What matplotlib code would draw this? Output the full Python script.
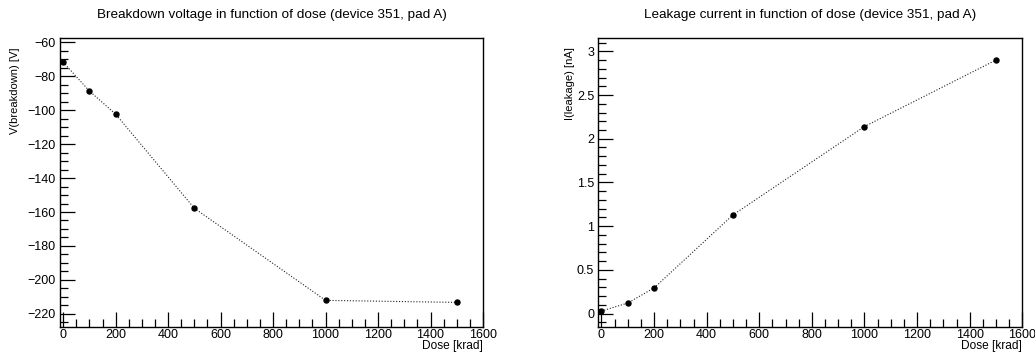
import matplotlib
matplotlib.use("Agg")
import matplotlib.pyplot as plt
from matplotlib.ticker import MultipleLocator, FuncFormatter

plt.rcParams['font.family'] = ['Liberation Sans', 'DejaVu Sans']

dose = [0, 100, 200, 500, 1000, 1500]
v_breakdown = [-71.8, -88.8, -102.4, -157.8, -212.0, -213.2]
i_leakage = [0.03, 0.122, 0.294, 1.129, 2.14, 2.90]

titles = ["Breakdown voltage in function of dose (device 351, pad A)",
          "Leakage current in function of dose (device 351, pad A)"]
ylabels = ["V(breakdown) [V]", "I(leakage) [nA]"]
xlabel = "Dose [krad]"

W, H = 1035, 353
fig = plt.figure(figsize=(W / 100, H / 100), dpi=100)

def frac(x0, x1, ytop, ybot):
    return [x0 / W, 1 - ybot / H, (x1 - x0) / W, (ybot - ytop) / H]

ax1 = fig.add_axes(frac(60, 483, 38, 326.7))
ax2 = fig.add_axes(frac(598.3, 1022.3, 38, 326.7))

fmt = FuncFormatter(lambda v, p: ('%g' % round(v, 6)).replace('-', '\u2212'))

specs = [
    (ax1, v_breakdown, (-227.5, -57.6), 20, 5, 0, ylabels[0], 15.5),
    (ax2, i_leakage, (-0.149, 3.152), 0.5, 0.1, 1, ylabels[1], 570),
]

for ax, yv, ylim, ymaj, ymin, idx, ylab, ylx in specs:
    ax.plot(dose, yv, color='#222222', linestyle=(0, (1, 1.6)), linewidth=0.8,
            marker='o', markersize=3.6, markerfacecolor='black',
            markeredgecolor='black')
    ax.set_xlim(-12, 1600)
    ax.set_ylim(*ylim)
    ax.xaxis.set_major_locator(MultipleLocator(200))
    ax.xaxis.set_minor_locator(MultipleLocator(50))
    ax.yaxis.set_major_locator(MultipleLocator(ymaj))
    ax.yaxis.set_minor_locator(MultipleLocator(ymin))
    ax.xaxis.set_major_formatter(fmt)
    ax.yaxis.set_major_formatter(fmt)
    ax.tick_params(which='both', direction='in', top=False, right=False,
                   labelsize=9, width=0.9, color='black')
    ax.tick_params(which='major', length=11)
    ax.tick_params(which='minor', length=5.5)
    ax.tick_params(axis='y', pad=3)
    ax.tick_params(axis='x', pad=1.5)
    for s in ax.spines.values():
        s.set_linewidth(1.0)
    bbox = ax.get_position()
    cx = (bbox.x0 + bbox.x1) / 2
    fig.text(cx, 1 - 15 / H, titles[idx], ha='center', va='center', fontsize=9.7)
    fig.text(bbox.x1, 1 - 346.5 / H, xlabel, ha='right', va='center', fontsize=8.6)
    fig.text(ylx / W, 1 - 47 / H, ylab, ha='center', va='top', rotation=90,
             fontsize=8)

fig.savefig("out.png", dpi=100)
